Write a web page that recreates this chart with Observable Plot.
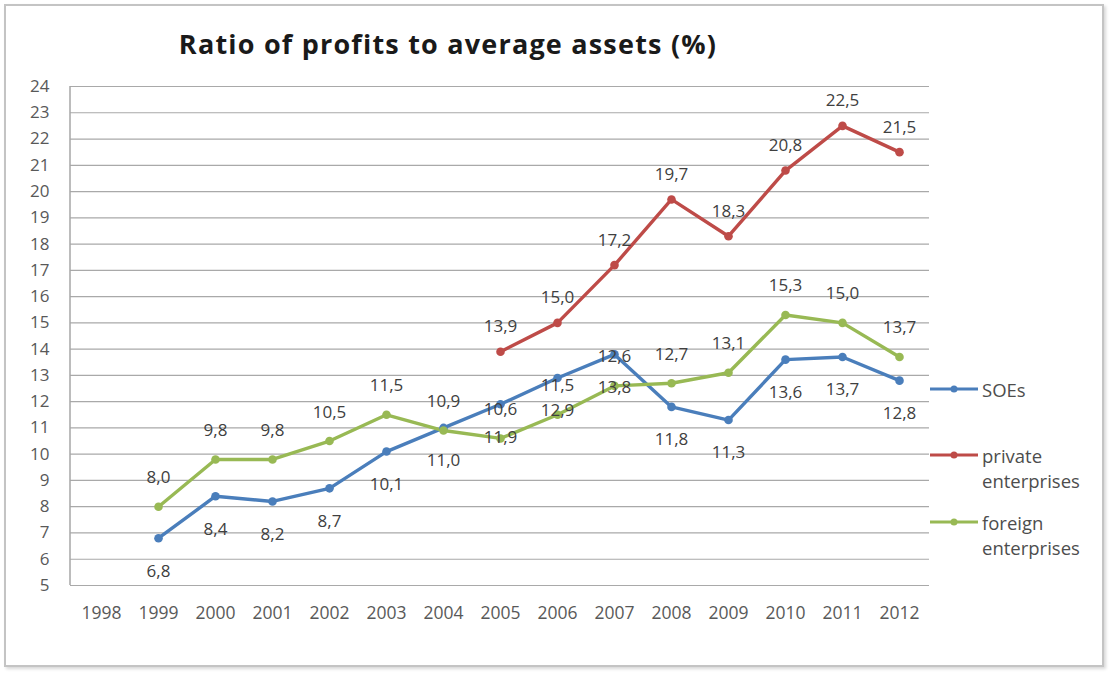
<!DOCTYPE html>
<html>
<head>
<meta charset="utf-8">
<script src="https://cdn.jsdelivr.net/npm/d3@7"></script>
<script src="https://cdn.jsdelivr.net/npm/@observablehq/plot@0.6"></script>
<style>
  html, body { margin: 0; padding: 0; background: #fff; }
  #page { position: relative; width: 1110px; height: 673px; overflow: hidden; font-family: "Open Sans", "Noto Sans", sans-serif; }
  #frame { position: absolute; left: 4px; top: 4px; width: 1100px; height: 663px; border: 2px solid #c4c4c4; box-shadow: 2px 2px 3px #d8d8d8; box-sizing: border-box; }
  #title { position: absolute; left: 0; width: 896px; top: 24px; text-align: center; font-weight: 700; font-size: 27px; letter-spacing: 1.2px; color: #1a1a1a; line-height: 40px; }
  #chart { position: absolute; left: 0; top: 60px; }
  #legend { position: absolute; left: 930px; top: 0; font-size: 18.5px; color: #4d4d4d; line-height: 25px; }
  .item { position: absolute; left: 0; padding-left: 52px; white-space: nowrap; }
  .item svg { position: absolute; left: 0; top: 6.5px; }
</style>
</head>
<body>
<div id="page">
  <div id="frame"></div>
  <div id="title">Ratio of profits to average assets (%)</div>
  <div id="chart"></div>
  <div id="legend"></div>
</div>
<script>
const years = [1998, 1999, 2000, 2001, 2002, 2003, 2004, 2005, 2006, 2007, 2008, 2009, 2010, 2011, 2012];
const soes =    [null, 6.8, 8.4, 8.2, 8.7, 10.1, 11.0, 11.9, 12.9, 13.8, 11.8, 11.3, 13.6, 13.7, 12.8];
const privateE = [null, null, null, null, null, null, null, 13.9, 15.0, 17.2, 19.7, 18.3, 20.8, 22.5, 21.5];
const foreign = [null, 8.0, 9.8, 9.8, 10.5, 11.5, 10.9, 10.6, 11.5, 12.6, 12.7, 13.1, 15.3, 15.0, 13.7];
const seriesNames = ["SOEs", "private enterprises", "foreign enterprises"];
const seriesColors = ["#4a7ebb", "#be4b48", "#98b954"];
const yTicks = d3.range(5, 25);

const seriesValues = [soes, privateE, foreign];
const rows = [];
seriesNames.forEach((name, i) => {
  seriesValues[i].forEach((v, j) => {
    if (v != null) rows.push({year: years[j], value: v, series: name});
  });
});
const fmt = v => d3.format(".1f")(v).replace(".", ",");

const leftAxisLine = (index, scales, values, dims) => {
  const g = d3.create("svg:line")
    .attr("x1", dims.marginLeft).attr("x2", dims.marginLeft)
    .attr("y1", dims.marginTop).attr("y2", dims.height - dims.marginBottom)
    .attr("stroke", "#a6a6a6").attr("stroke-width", 1.5);
  return g.node();
};

const labelDy = {"SOEs": 33, "private enterprises": -25, "foreign enterprises": -29};

const plot = Plot.plot({
  width: 1110,
  height: 580,
  marginLeft: 70,
  marginRight: 181,
  marginTop: 26,
  marginBottom: 55,
  style: {fontFamily: "'Open Sans', 'Noto Sans', sans-serif", fontSize: "15px", color: "#595959", background: "transparent"},
  x: {type: "point", domain: years, padding: 0.5, label: null},
  y: {domain: [5, 24], label: null},
  color: {domain: seriesNames, range: seriesColors},
  marks: [
    Plot.gridY(yTicks, {stroke: "#a9a9a9", strokeOpacity: 1, strokeWidth: 1.2}),
    leftAxisLine,
    Plot.axisY(yTicks, {tickSize: 0, tickPadding: 21, fontSize: 17, fill: "#595959", label: null}),
    Plot.axisX(years, {tickSize: 0, tickPadding: 21, fontSize: 17.5, fill: "#595959", tickFormat: d => String(d), label: null}),
    Plot.line(rows, {x: "year", y: "value", z: "series", stroke: "series", strokeWidth: 3.4}),
    Plot.dot(rows, {x: "year", y: "value", fill: "series", r: 4.3, stroke: "none"}),
    ...seriesNames.map(name => Plot.text(rows.filter(d => d.series === name), {
      x: "year", y: "value", text: d => fmt(d.value), dy: labelDy[name],
      fontSize: 17, fill: "#404040"
    }))
  ]
});
document.getElementById("chart").appendChild(plot);

// legend
const legend = d3.select("#legend");
const legendLines = [["SOEs"], ["private", "enterprises"], ["foreign", "enterprises"]];
const legendCenters = [389, 455, 522];
seriesNames.forEach((name, i) => {
  const item = legend.append("div").attr("class", "item").style("top", (legendCenters[i] - 12.5) + "px");
  const s = item.append("svg").attr("width", 50).attr("height", 12);
  s.append("line").attr("x1", 0).attr("x2", 48).attr("y1", 6).attr("y2", 6).attr("stroke", seriesColors[i]).attr("stroke-width", 3);
  s.append("circle").attr("cx", 24).attr("cy", 6).attr("r", 3.5).attr("fill", seriesColors[i]);
  legendLines[i].forEach(t => item.append("div").text(t));
});
</script>
</body>
</html>
